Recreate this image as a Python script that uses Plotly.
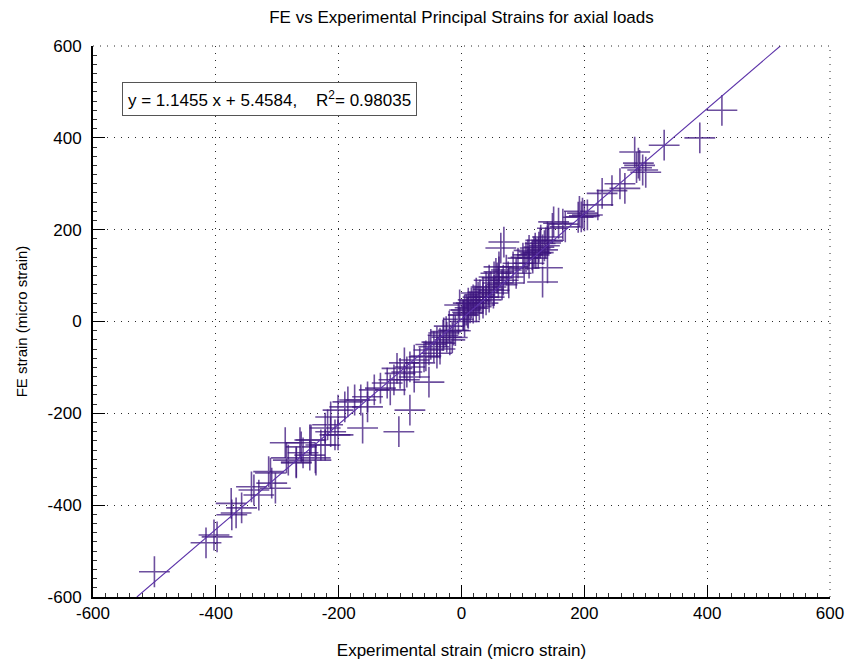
import plotly.graph_objects as go

# ---- data ----
exp_strain = [
    424, 388, 330, 282, 290, 295, 288, 300, 285, 266, 258, 245, 229, 222, 197, 200, 192, 205, 195,
    165, 158, 148, 150, 140, 135, 128, 140, 132, 120, 125, 115, 110, 105, 190, 169,
    137, 126, 118, 108, 100, 92, 84, 73, 61, 53, 45, 40, 35, 27, 19, 11, 5, -3,
    52, 48, 60, 68, 76, 77, 89, 102, 110, 116, 121, 132, 129, 142, 140,
    40, 29, 19, 11, 3, 16, 45, 53, 24, 35, 56, 61, 69, 64,
    24, 8, 35, 3, -30, -20, -15, -10, -40, -5, 5, 10,
    30, 44, 58, 66, 22, 14, -25, -50, -35, -58,
    -13, -24, -29, -19, -35, -45, -40, -53, -61, -68, -77, -84, -93, -89, -100, -105,
    -110, -93, -77, -53, -121, -132, -116, -142, -153, -164, -174, -185, -190, -153,
    -84, -102, -161, -201, -213, -218, -206, -222, -229, -247, -261, -247, -237, -269,
    -287, -285, -314,
    -500, -416, -403, -398, -374, -375, -367, -358, -338, -330, -342, -311, -309, -303,
    -282, -269, -263, -258, -245, -238, -222, -213, -201,
]
fe_strain = [
    460, 400, 384, 369, 340, 330, 345, 325, 335, 290, 300, 285, 279, 254, 236, 230, 240, 232, 228,
    212, 214, 203, 217, 175, 165, 170, 117, 86, 160, 150, 145, 155, 140, 227, 206,
    171, 162, 152, 145, 138, 127, 119, 112, 108, 97, 90, 75, 64, 53, 47, 40, 25, 36,
    62, 75, 84, 90, 97, 84, 105, 116, 127, 138, 149, 156, 177, 177, 184,
    47, 36, 29, 18, 14, 40, 53, 68, 62, 53, 105, 119, 173, 160,
    32, 25, 40, 14, -30, -10, -35, -20, -45, 5, 0, 20,
    58, 70, 95, 80, 45, 30, -22, -50, -60, -75,
    -19, -34, -25, -40, -47, -55, -69, -62, -77, -90, -84, -99, -90, -110, -113, -102,
    -127, -127, -121, -132, -134, -145, -149, -149, -164, -171, -171, -175, -186, -186,
    -193, -240, -232, -193, -208, -225, -247, -232, -269, -258, -273, -291, -302, -308,
    -264, -297, -327,
    -545, -482, -465, -469, -421, -396, -417, -406, -367, -378, -360, -330, -352, -363,
    -302, -306, -264, -286, -258, -297, -269, -240, -247,
]
slope = 1.1455
intercept = 5.4584
r_squared = 0.98035
x_ticks = [-600, -400, -200, 0, 200, 400, 600]
y_ticks = [-600, -400, -200, 0, 200, 400, 600]
x_tick_labels = ["-600", "-400", "-200", "0", "200", "400", "600"]
y_tick_labels = ["-600", "-400", "-200", "0", "200", "400", "600"]
title_text = "FE vs Experimental Principal Strains for axial loads"
x_title = "Experimental strain (micro strain)"
y_title = "FE strain (micro strain)"

FONT = "Liberation Sans, Arial, sans-serif"
GRID_DASH = "1px,6px"
GRID_COL = "#2a2a2a"

# fit line spanning the visible range
y_lo, y_hi = -600, 600
fit_x = [(y_lo - intercept) / slope, (y_hi - intercept) / slope]
fit_y = [slope * v + intercept for v in fit_x]

fig = go.Figure()
fig.add_trace(go.Scatter(
    x=exp_strain, y=fe_strain, mode="markers",
    marker=dict(symbol="cross-thin-open", size=22, color="rgba(60,20,125,0.75)",
                line=dict(width=1.6, color="rgba(60,20,125,0.75)")),
    showlegend=False, hoverinfo="skip"))
fig.add_trace(go.Scatter(
    x=fit_x, y=fit_y, mode="lines",
    line=dict(color="#5b31a8", width=1.1),
    showlegend=False, hoverinfo="skip"))

axis_common = dict(
    range=[-600, 600], showline=True, linecolor="black", linewidth=2,
    ticks="inside", ticklen=12, tickwidth=1.3, tickcolor="black",
    showgrid=True, gridcolor=GRID_COL, griddash=GRID_DASH, gridwidth=1,
    zeroline=False, tickfont=dict(family=FONT, size=17, color="black"),
    ticklabeloverflow="allow", automargin=False,
    minor=dict(ticks="inside", ticklen=4, tickcolor="#333", tickwidth=1, dtick=20, showgrid=False),
)
fig.update_xaxes(**axis_common, tickvals=x_ticks, ticktext=x_tick_labels,
                 title=dict(text=x_title, font=dict(family=FONT, size=17, color="black"), standoff=22))
fig.update_yaxes(**axis_common, tickvals=y_ticks, ticktext=y_tick_labels, ticklabelstandoff=6,
                 title=dict(text=y_title, font=dict(family=FONT, size=15, color="black"), standoff=16))

# dotted top and right border
for s in [dict(x0=0, x1=1, y0=1, y1=1), dict(x0=1, x1=1, y0=0, y1=1)]:
    fig.add_shape(type="line", xref="paper", yref="paper",
                  line=dict(color=GRID_COL, width=1, dash=GRID_DASH), **s)

fig.add_annotation(
    x=-313, y=485, xref="x", yref="y", showarrow=False,
    text=f"y = {slope} x + {intercept},&nbsp;&nbsp;&nbsp;&nbsp;R<sup>2</sup>= {r_squared}",
    font=dict(family=FONT, size=17, color="black"),
    bgcolor="white", bordercolor="#555", borderwidth=1, borderpad=5,
)

fig.update_layout(
    width=845, height=664,
    margin=dict(l=93, r=15, t=46, b=67),
    paper_bgcolor="white", plot_bgcolor="white",
    title=dict(text=title_text, x=0.5, xref="paper", y=0.975, yanchor="middle",
               font=dict(family=FONT, size=17, color="black")),
)

fig.write_html("out.html")
